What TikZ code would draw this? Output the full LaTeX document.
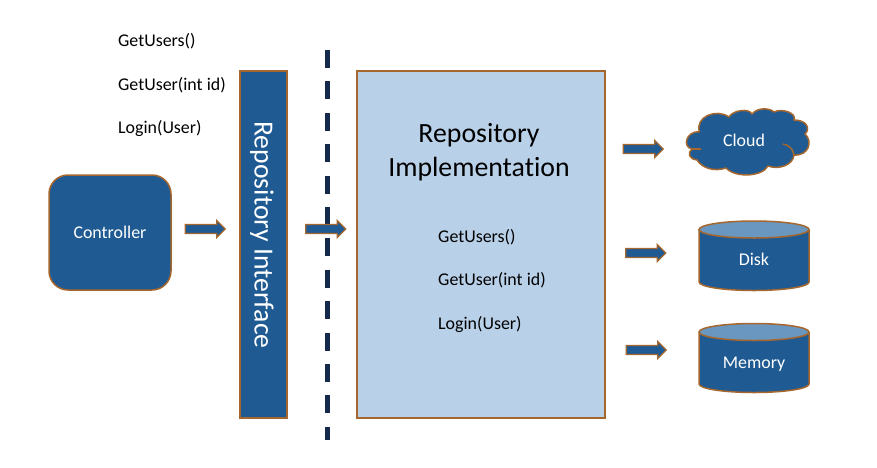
\documentclass[tikz,border=0pt]{standalone}
\usepackage{fontspec}
\setmainfont[Ligatures=NoCommon]{Carlito}
\usetikzlibrary{shapes.arrows}
\definecolor{blockblue}{HTML}{1F5A92}
\definecolor{edgebrown}{HTML}{A5672E}
\definecolor{lightblue}{HTML}{B8D0E8}
\definecolor{capblue}{HTML}{6A97BF}
\definecolor{navy}{HTML}{15294A}
\tikzset{
  x=1pt,y=-1pt,
  solidbox/.style={draw=edgebrown,fill=blockblue,line width=1.5pt},
  blockarrow/.style={single arrow,draw=edgebrown,fill=blockblue,line width=1.3pt,
    minimum height=40pt,single arrow head extend=4pt,
    single arrow head indent=0pt,inner xsep=0pt,inner ysep=3.8pt,anchor=center},
  lab/.style={font=\fontsize{17.9}{20}\selectfont,text=black,anchor=west,inner sep=0pt},
  inlab/.style={font=\fontsize{17.9}{20}\selectfont,text=white,inner sep=0pt},
  biglab/.style={font=\fontsize{27.8}{32}\selectfont,text=black,inner sep=0pt},
}
\begin{document}
\begin{tikzpicture}
\useasboundingbox (0,0) rectangle (877,467);
\fill[white] (0,0) rectangle (877,467);
% dashed divider
\coordinate (dtop) at (327.3,50);
\coordinate (dbot) at (327.3,440);
\draw[navy,line width=4.6pt,dash pattern=on 18pt off 13.4pt] (dtop) -- (dbot);
% boxes
\draw[solidbox,rounded corners=19pt] (49,175) rectangle (171,290);
\node[inlab] (controller) at (110,232) {Controller};
\draw[solidbox] (240,71) rectangle (287,418);
\node[inlab,rotate=-90,font=\fontsize{27.7}{32}\selectfont] (iface) at (262,235) {Repository Interface};
\draw[draw=edgebrown,fill=lightblue,line width=1.5pt] (357,71) rectangle (605,418);
\node[biglab] (impl1) at (479,135.5) {Repository};
\node[biglab] (impl2) at (479,169.5) {Implementation};
% left labels
\node[lab] (a1) at (118,41) {GetUsers()};
\node[lab] (a2) at (118,85) {GetUser(int id)};
\node[lab] (a3) at (118,128) {Login(User)};
\node[lab] (b1) at (438,237) {GetUsers()};
\node[lab] (b2) at (438,280) {GetUser(int id)};
\node[lab] (b3) at (438,324) {Login(User)};
% arrows
\node[blockarrow] (ar1) at (203,229) {};
\node[blockarrow] (ar2) at (323.5,229) {};
\node[blockarrow] (ar3) at (641,149) {};
\node[blockarrow] (ar4) at (643.5,253) {};
\node[blockarrow] (ar5) at (644,350) {};
% cloud
\draw[solidbox,line join=round]
  (699.3,131.7)
  .. controls (695,117) and (716,108) .. (729,117)
  .. controls (733,110) and (749,108) .. (752,114)
  .. controls (758,107) and (770,108) .. (774,112)
  .. controls (782,108) and (797,113) .. (794,120)
  .. controls (806,120) and (811,128) .. (805,134)
  .. controls (813,141) and (809,156) .. (794,155)
  .. controls (793,165) and (779,170) .. (768,166)
  .. controls (762,177) and (735,178) .. (726,168)
  .. controls (714,172) and (702,168) .. (697,160)
  .. controls (689,159) and (687,153) .. (692,149)
  .. controls (682,147) and (686,131) .. (699.3,131.7)
  -- cycle;
\draw[edgebrown,line width=1.5pt] (691,149) -- (701,149);
\draw[edgebrown,line width=1.5pt] (783,144) .. controls (789,145) and (793,149) .. (794,155);
\node[inlab] (cloud) at (744,140.5) {Cloud};
% disk
\draw[solidbox] (699,229.5) -- (699,282) arc[start angle=180,end angle=360,x radius=55,y radius=-8.5] -- (809,229.5);
\draw[solidbox,fill=capblue] (754,229.5) ellipse[x radius=55,y radius=8.5];
\node[inlab] (disk) at (754,259.5) {Disk};
% memory
\draw[solidbox] (699,332) -- (699,384) arc[start angle=180,end angle=360,x radius=55,y radius=-8.5] -- (809,332);
\draw[solidbox,fill=capblue] (754,332) ellipse[x radius=55,y radius=8.5];
\node[inlab] (memory) at (754,364) {Memory};
\end{tikzpicture}
\end{document}
